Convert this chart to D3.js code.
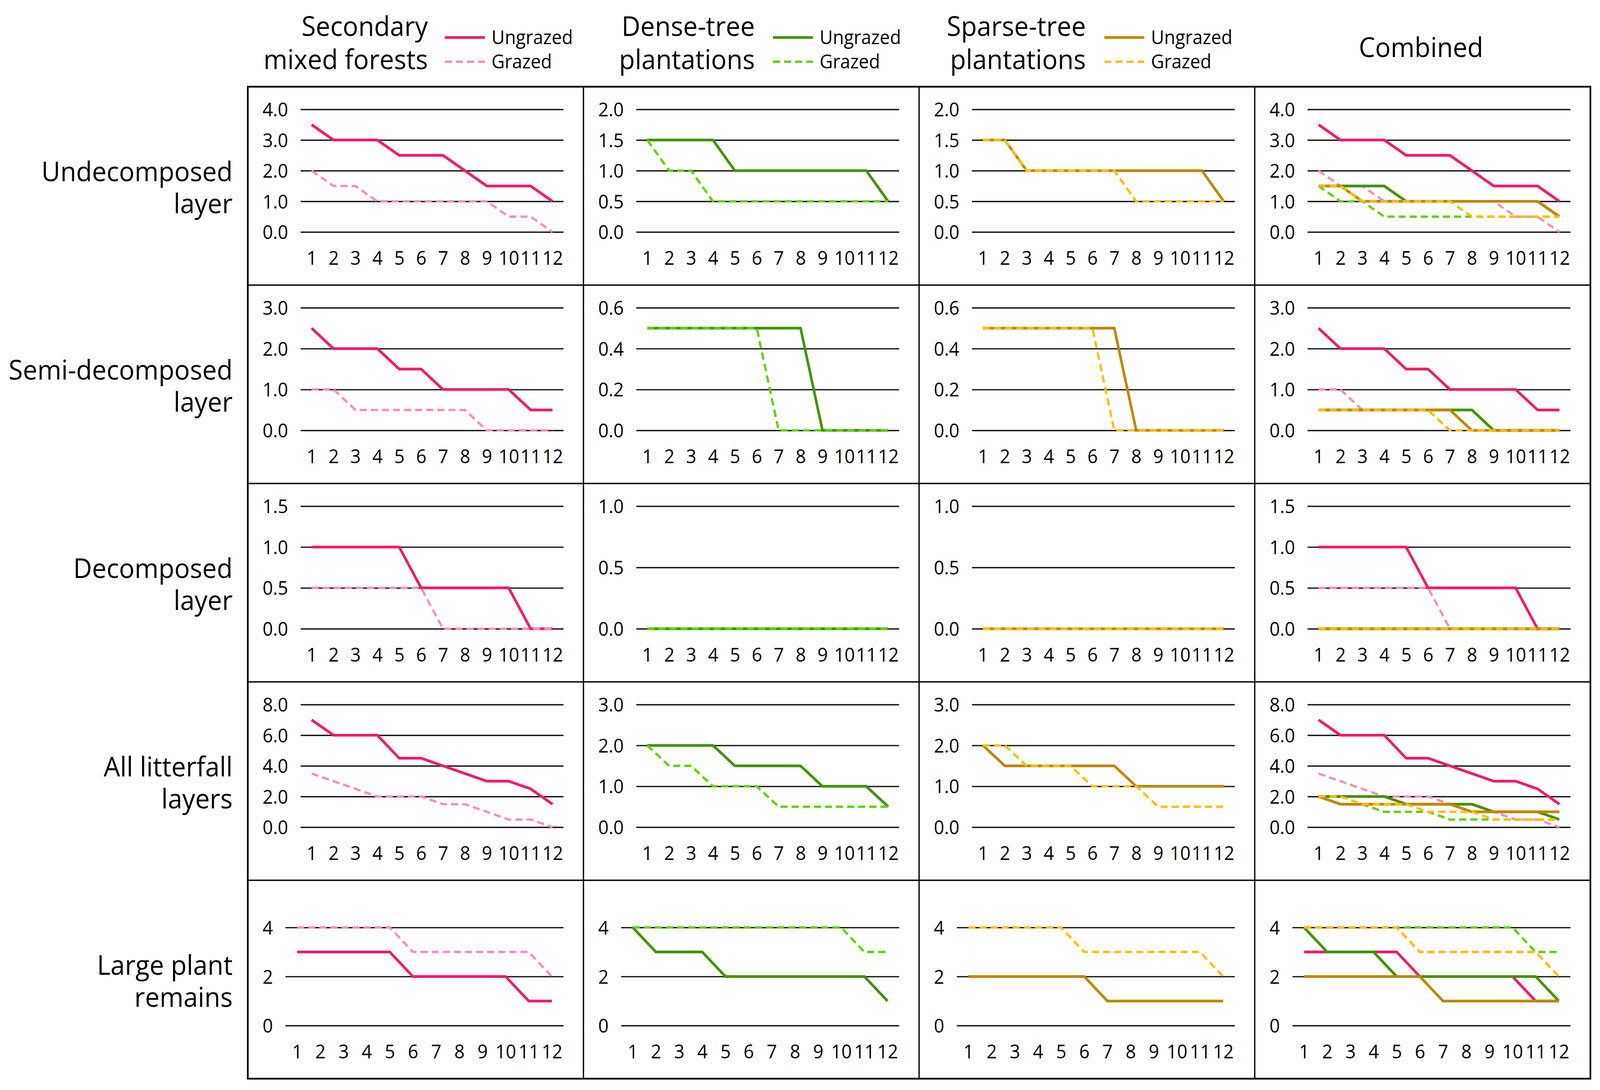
<!DOCTYPE html>
<html><head><meta charset="utf-8">
<script src="https://cdn.jsdelivr.net/npm/d3@7"></script>
<style>
html,body{margin:0;padding:0;background:#fff;overflow:hidden;width:100%;height:100%}
svg{display:block;width:100vw;height:100vh}
text{font-family:'Open Sans',sans-serif;fill:#000}
</style>
</head><body><svg id="chart"></svg>
<script>
const W = 4326, H = 2791;

// ---------- categories & labels ----------
const months = [1,2,3,4,5,6,7,8,9,10,11,12];
const colTitles = [["Secondary","mixed forests"],["Dense-tree","plantations"],["Sparse-tree","plantations"],["Combined"]];
const rowLabels = [["Undecomposed","layer"],["Semi-decomposed","layer"],["Decomposed","layer"],["All litterfall","layers"],["Large plant","remains"]];
const legendLabels = ["Ungrazed","Grazed"];
const ungrazedColors = ["#F01B6C","#459106","#BF8700"];
const grazedColors   = ["#F88FBA","#62D100","#FFBF00"];

// ---------- series values ----------
// Undecomposed layer
const undecSMF_U    = [3.5,3,3,3,2.5,2.5,2.5,2,1.5,1.5,1.5,1];
const undecSMF_G    = [2,1.5,1.5,1,1,1,1,1,1,0.5,0.5,0];
const undecDense_U  = [1.5,1.5,1.5,1.5,1,1,1,1,1,1,1,0.5];
const undecDense_G  = [1.5,1,1,0.5,0.5,0.5,0.5,0.5,0.5,0.5,0.5,0.5];
const undecSparse_U = [1.5,1.5,1,1,1,1,1,1,1,1,1,0.5];
const undecSparse_G = [1.5,1.5,1,1,1,1,1,0.5,0.5,0.5,0.5,0.5];
// Semi-decomposed layer
const semiSMF_U    = [2.5,2,2,2,1.5,1.5,1,1,1,1,0.5,0.5];
const semiSMF_G    = [1,1,0.5,0.5,0.5,0.5,0.5,0.5,0,0,0,0];
const semiDense_U  = [0.5,0.5,0.5,0.5,0.5,0.5,0.5,0.5,0,0,0,0];
const semiDense_G  = [0.5,0.5,0.5,0.5,0.5,0.5,0,0,0,0,0,0];
const semiSparse_U = [0.5,0.5,0.5,0.5,0.5,0.5,0.5,0,0,0,0,0];
const semiSparse_G = [0.5,0.5,0.5,0.5,0.5,0.5,0,0,0,0,0,0];
// Decomposed layer
const decSMF_U    = [1,1,1,1,1,0.5,0.5,0.5,0.5,0.5,0,0];
const decSMF_G    = [0.5,0.5,0.5,0.5,0.5,0.5,0,0,0,0,0,0];
const decDense_U  = [0,0,0,0,0,0,0,0,0,0,0,0];
const decDense_G  = [0,0,0,0,0,0,0,0,0,0,0,0];
const decSparse_U = [0,0,0,0,0,0,0,0,0,0,0,0];
const decSparse_G = [0,0,0,0,0,0,0,0,0,0,0,0];
// All litterfall layers
const allSMF_U    = [7,6,6,6,4.5,4.5,4,3.5,3,3,2.5,1.5];
const allSMF_G    = [3.5,3,2.5,2,2,2,1.5,1.5,1,0.5,0.5,0];
const allDense_U  = [2,2,2,2,1.5,1.5,1.5,1.5,1,1,1,0.5];
const allDense_G  = [2,1.5,1.5,1,1,1,0.5,0.5,0.5,0.5,0.5,0.5];
const allSparse_U = [2,1.5,1.5,1.5,1.5,1.5,1.5,1,1,1,1,1];
const allSparse_G = [2,2,1.5,1.5,1.5,1,1,1,0.5,0.5,0.5,0.5];
// Large plant remains
const largeSMF_U    = [3,3,3,3,3,2,2,2,2,2,1,1];
const largeSMF_G    = [4,4,4,4,4,3,3,3,3,3,3,2];
const largeDense_U  = [4,3,3,3,2,2,2,2,2,2,2,1];
const largeDense_G  = [4,4,4,4,4,4,4,4,4,4,3,3];
const largeSparse_U = [2,2,2,2,2,2,1,1,1,1,1,1];
const largeSparse_G = [4,4,4,4,4,3,3,3,3,3,3,2];

// ---------- y tick labels (per column: SMF, Dense, Sparse, Combined) ----------
const yTicksUndec = [[0,1,2,3,4],[0,0.5,1,1.5,2],[0,0.5,1,1.5,2],[0,1,2,3,4]];
const yTicksSemi  = [[0,1,2,3],[0,0.2,0.4,0.6],[0,0.2,0.4,0.6],[0,1,2,3]];
const yTicksDec   = [[0,0.5,1,1.5],[0,0.5,1],[0,0.5,1],[0,0.5,1,1.5]];
const yTicksAll   = [[0,2,4,6,8],[0,1,2,3],[0,1,2,3],[0,2,4,6,8]];
const yTicksLarge = [[0,2,4],[0,2,4],[0,2,4],[0,2,4]];
const yMaxLarge = 5;

// ---------- build table ----------
const rows = [
  {ticks: yTicksUndec, fmt: ".1f", series: [[undecSMF_U,undecSMF_G],[undecDense_U,undecDense_G],[undecSparse_U,undecSparse_G]]},
  {ticks: yTicksSemi,  fmt: ".1f", series: [[semiSMF_U,semiSMF_G],[semiDense_U,semiDense_G],[semiSparse_U,semiSparse_G]]},
  {ticks: yTicksDec,   fmt: ".1f", series: [[decSMF_U,decSMF_G],[decDense_U,decDense_G],[decSparse_U,decSparse_G]]},
  {ticks: yTicksAll,   fmt: ".1f", series: [[allSMF_U,allSMF_G],[allDense_U,allDense_G],[allSparse_U,allSparse_G]]},
  {ticks: yTicksLarge, fmt: "d",   max: yMaxLarge, series: [[largeSMF_U,largeSMF_G],[largeDense_U,largeDense_G],[largeSparse_U,largeSparse_G]]}
];

// ---------- layout ----------
const tableLeft = 670, tableRight = 4300, tableTop = 222, tableBottom = 2762;
const colW = (tableRight - tableLeft) / 4;
const rowH = (tableBottom - tableTop) / 5;
const tickFont = 49, titleFont = 70;

const svg = d3.select("#chart").attr("viewBox", `0 0 ${W} ${H}`).attr("preserveAspectRatio", "none");
svg.append("rect").attr("width", W).attr("height", H).attr("fill", "#fff");

function measure(strs, size){
  const t = svg.append("text").style("font-size", size + "px");
  let m = 0;
  strs.forEach(s => { t.text(s); m = Math.max(m, t.node().getComputedTextLength()); });
  t.remove();
  return m;
}

const solidW = 7, dashW = 6, dashArr = "19,11";

rows.forEach((row, r) => {
  const py0 = tableTop + r * rowH;
  for (let c = 0; c < 4; c++) {
    const px0 = tableLeft + c * colW;
    const ticks = row.ticks[c];
    const yMax = row.max !== undefined ? row.max : d3.max(ticks);
    const fmt = d3.format(row.fmt);
    const labW = measure(ticks.map(fmt), tickFont);
    const gridLeft = px0 + 40 + labW + 34;
    const gridRight = px0 + colW - 54;
    const y = d3.scaleLinear().domain([0, yMax]).range([py0 + 372, py0 + 58]);
    const x = d3.scalePoint().domain(months).range([gridLeft, gridRight]).padding(0.5);

    // y axis with gridlines
    const ga = svg.append("g").attr("transform", `translate(${gridLeft},0)`)
      .call(d3.axisLeft(y).tickValues(ticks).tickFormat(fmt).tickSize(-(gridRight - gridLeft)).tickPadding(34));
    ga.select(".domain").remove();
    ga.attr("font-family", null).attr("font-size", null);
    ga.selectAll(".tick line").attr("stroke", "#141414").attr("stroke-width", 3.3);
    ga.selectAll(".tick text").style("font-size", tickFont + "px").attr("fill", "#000").attr("dy", "0.36em");

    // x axis labels
    const gx = svg.append("g").attr("transform", `translate(0,${y(0)})`)
      .call(d3.axisBottom(x).tickSize(0).tickPadding(66));
    gx.select(".domain").remove();
    gx.attr("font-family", null).attr("font-size", null);
    gx.selectAll(".tick text").style("font-size", tickFont + "px").attr("fill", "#000").attr("dy", "0.36em");

    const line = d3.line().x((d, i) => x(months[i])).y(d => y(d));
    const hs = c < 3 ? [c] : [0, 1, 2];
    hs.forEach(h => {
      svg.append("path").datum(row.series[h][0]).attr("d", line)
        .attr("fill", "none").attr("stroke", ungrazedColors[h]).attr("stroke-width", solidW)
        .attr("stroke-linejoin", "round");
      svg.append("path").datum(row.series[h][1]).attr("d", line)
        .attr("fill", "none").attr("stroke", grazedColors[h]).attr("stroke-width", dashW)
        .attr("stroke-dasharray", dashArr);
    });
  }
  // row label
  const cy = py0 + rowH / 2;
  const rl = svg.append("text").attr("text-anchor", "end").style("font-size", titleFont + "px");
  rl.append("tspan").attr("x", 629).attr("y", cy - 12).text(rowLabels[r][0]);
  rl.append("tspan").attr("x", 629).attr("y", cy + 70).text(rowLabels[r][1]);
});

// table grid
for (let c = 1; c < 4; c++) {
  svg.append("line").attr("x1", tableLeft + c * colW).attr("x2", tableLeft + c * colW)
    .attr("y1", tableTop).attr("y2", tableBottom).attr("stroke", "#000").attr("stroke-width", 3.5);
}
for (let r = 1; r < 5; r++) {
  svg.append("line").attr("x1", tableLeft).attr("x2", tableRight)
    .attr("y1", tableTop + r * rowH).attr("y2", tableTop + r * rowH).attr("stroke", "#000").attr("stroke-width", 3.5);
}
svg.append("rect").attr("x", tableLeft).attr("y", tableTop).attr("width", tableRight - tableLeft)
  .attr("height", tableBottom - tableTop).attr("fill", "none").attr("stroke", "#000").attr("stroke-width", 4.5);

// column headers & legends
const titleRight = [1157, 2041, 2936];
const swatchX = [1203, 2090, 2986];
for (let c = 0; c < 3; c++) {
  const t = svg.append("text").attr("text-anchor", "end").style("font-size", titleFont + "px");
  t.append("tspan").attr("x", titleRight[c]).attr("y", 92).text(colTitles[c][0]);
  t.append("tspan").attr("x", titleRight[c]).attr("y", 177).text(colTitles[c][1]);
  const ys = [96, 158];
  legendLabels.forEach((lab, k) => {
    svg.append("line").attr("x1", swatchX[c]).attr("x2", swatchX[c] + 108)
      .attr("y1", ys[k]).attr("y2", ys[k])
      .attr("stroke", k === 0 ? ungrazedColors[c] : grazedColors[c])
      .attr("stroke-width", k === 0 ? solidW : dashW)
      .attr("stroke-dasharray", k === 0 ? null : dashArr);
    svg.append("text").attr("x", swatchX[c] + 126).attr("y", ys[k] + 17)
      .style("font-size", tickFont + "px").text(lab);
  });
}
svg.append("text").attr("x", 3842).attr("y", 146).attr("text-anchor", "middle")
  .style("font-size", titleFont + "px").text(colTitles[3][0]);
</script>
</body></html>
